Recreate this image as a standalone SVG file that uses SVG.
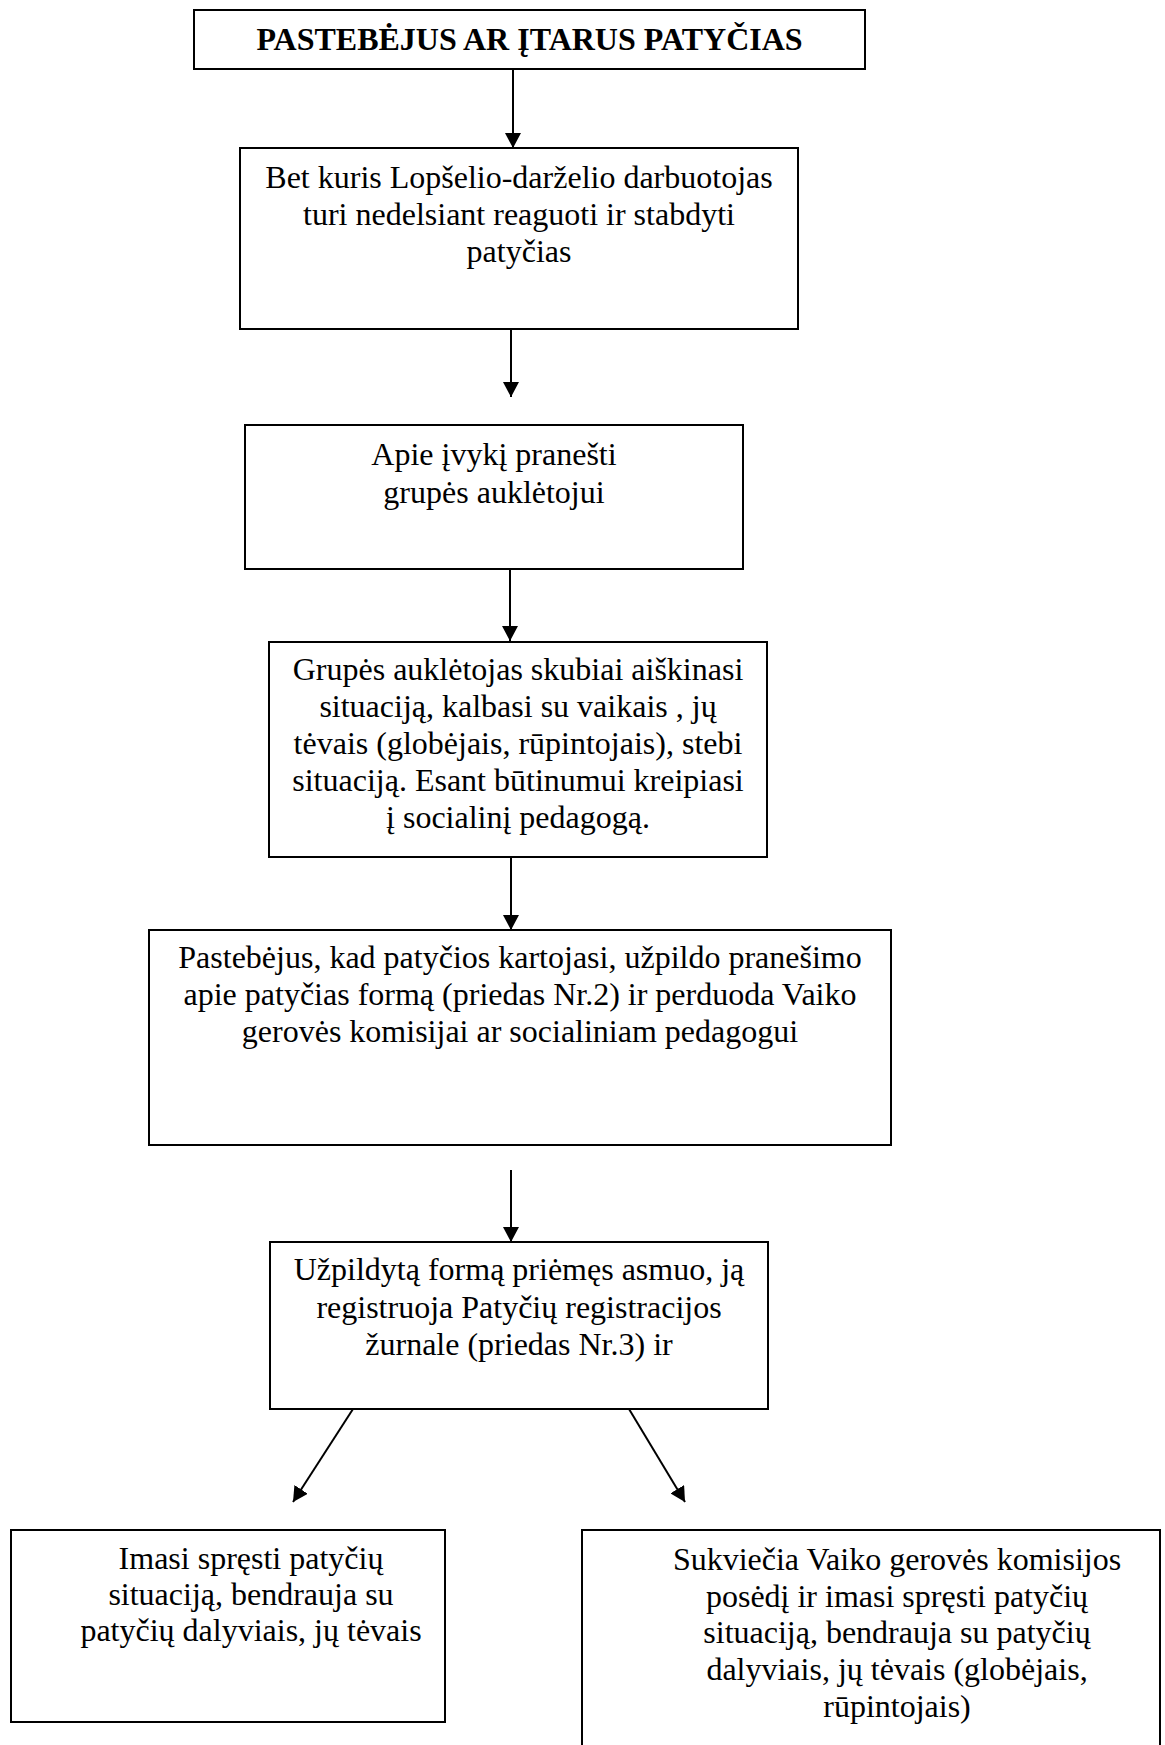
<svg xmlns="http://www.w3.org/2000/svg" width="1165" height="1745" viewBox="0 0 1165 1745">
<style>
  .box { fill: #ffffff; stroke: #000000; stroke-width: 2; }
  .t { font-family: "Liberation Serif", "Times New Roman", serif; font-size: 32px; fill: #000000; text-anchor: middle; }
  .tb { font-weight: bold; }
  .conn { stroke: #000000; stroke-width: 2; fill: none; marker-end: url(#arrow); }
</style>
<defs>
  <marker id="arrow" viewBox="0 0 15 16" refX="15" refY="8" markerWidth="15" markerHeight="16" markerUnits="userSpaceOnUse" orient="auto">
    <path d="M0,0 L15,8 L0,16 Z" fill="#000000"/>
  </marker>
</defs>
<rect x="0" y="0" width="1165" height="1745" fill="#ffffff"/>

<g id="connectors">
  <line class="conn" x1="513" y1="69" x2="513" y2="148"/>
  <line class="conn" x1="511" y1="329" x2="511" y2="397"/>
  <line class="conn" x1="510" y1="569" x2="510" y2="641"/>
  <line class="conn" x1="511" y1="857" x2="511" y2="930"/>
  <line class="conn" x1="511" y1="1170" x2="511" y2="1242"/>
  <line class="conn" x1="353" y1="1409" x2="293" y2="1502"/>
  <line class="conn" x1="629" y1="1409" x2="685" y2="1502"/>
</g>

<g id="n1">
  <rect class="box" x="194" y="10" width="671" height="59"/>
  <text class="t tb" x="529.5" y="50">PASTEBĖJUS AR ĮTARUS PATYČIAS</text>
</g>

<g id="n2">
  <rect class="box" x="240" y="148" width="558" height="181"/>
  <text class="t" x="519" y="188">Bet kuris Lopšelio-darželio darbuotojas</text>
  <text class="t" x="519" y="225">turi nedelsiant reaguoti ir stabdyti</text>
  <text class="t" x="519" y="262">patyčias</text>
</g>

<g id="n3">
  <rect class="box" x="245" y="425" width="498" height="144"/>
  <text class="t" x="494" y="465">Apie įvykį pranešti</text>
  <text class="t" x="494" y="503">grupės auklėtojui</text>
</g>

<g id="n4">
  <rect class="box" x="269" y="642" width="498" height="215"/>
  <text class="t" x="518" y="680">Grupės auklėtojas skubiai aiškinasi</text>
  <text class="t" x="518" y="717">situaciją, kalbasi su vaikais , jų</text>
  <text class="t" x="518" y="754">tėvais (globėjais, rūpintojais), stebi</text>
  <text class="t" x="518" y="791">situaciją. Esant būtinumui kreipiasi</text>
  <text class="t" x="518" y="828">į socialinį pedagogą.</text>
</g>

<g id="n5">
  <rect class="box" x="149" y="930" width="742" height="215"/>
  <text class="t" x="520" y="968">Pastebėjus, kad patyčios kartojasi, užpildo pranešimo</text>
  <text class="t" x="520" y="1005">apie patyčias formą (priedas Nr.2) ir perduoda Vaiko</text>
  <text class="t" x="520" y="1042">gerovės komisijai ar socialiniam pedagogui</text>
</g>

<g id="n6">
  <rect class="box" x="270" y="1242" width="498" height="167"/>
  <text class="t" x="519" y="1280">Užpildytą formą priėmęs asmuo, ją</text>
  <text class="t" x="519" y="1318">registruoja Patyčių registracijos</text>
  <text class="t" x="519" y="1355">žurnale (priedas Nr.3) ir</text>
</g>

<g id="n7">
  <rect class="box" x="11" y="1530" width="434" height="192"/>
  <text class="t" x="251" y="1569">Imasi spręsti patyčių</text>
  <text class="t" x="251" y="1605">situaciją, bendrauja su</text>
  <text class="t" x="251" y="1641">patyčių dalyviais, jų tėvais</text>
</g>

<g id="n8">
  <rect class="box" x="582" y="1530" width="578" height="240"/>
  <text class="t" x="897" y="1570">Sukviečia Vaiko gerovės komisijos</text>
  <text class="t" x="897" y="1607">posėdį ir imasi spręsti patyčių</text>
  <text class="t" x="897" y="1643">situaciją, bendrauja su patyčių</text>
  <text class="t" x="897" y="1680">dalyviais, jų tėvais (globėjais,</text>
  <text class="t" x="897" y="1717">rūpintojais)</text>
</g>
</svg>
